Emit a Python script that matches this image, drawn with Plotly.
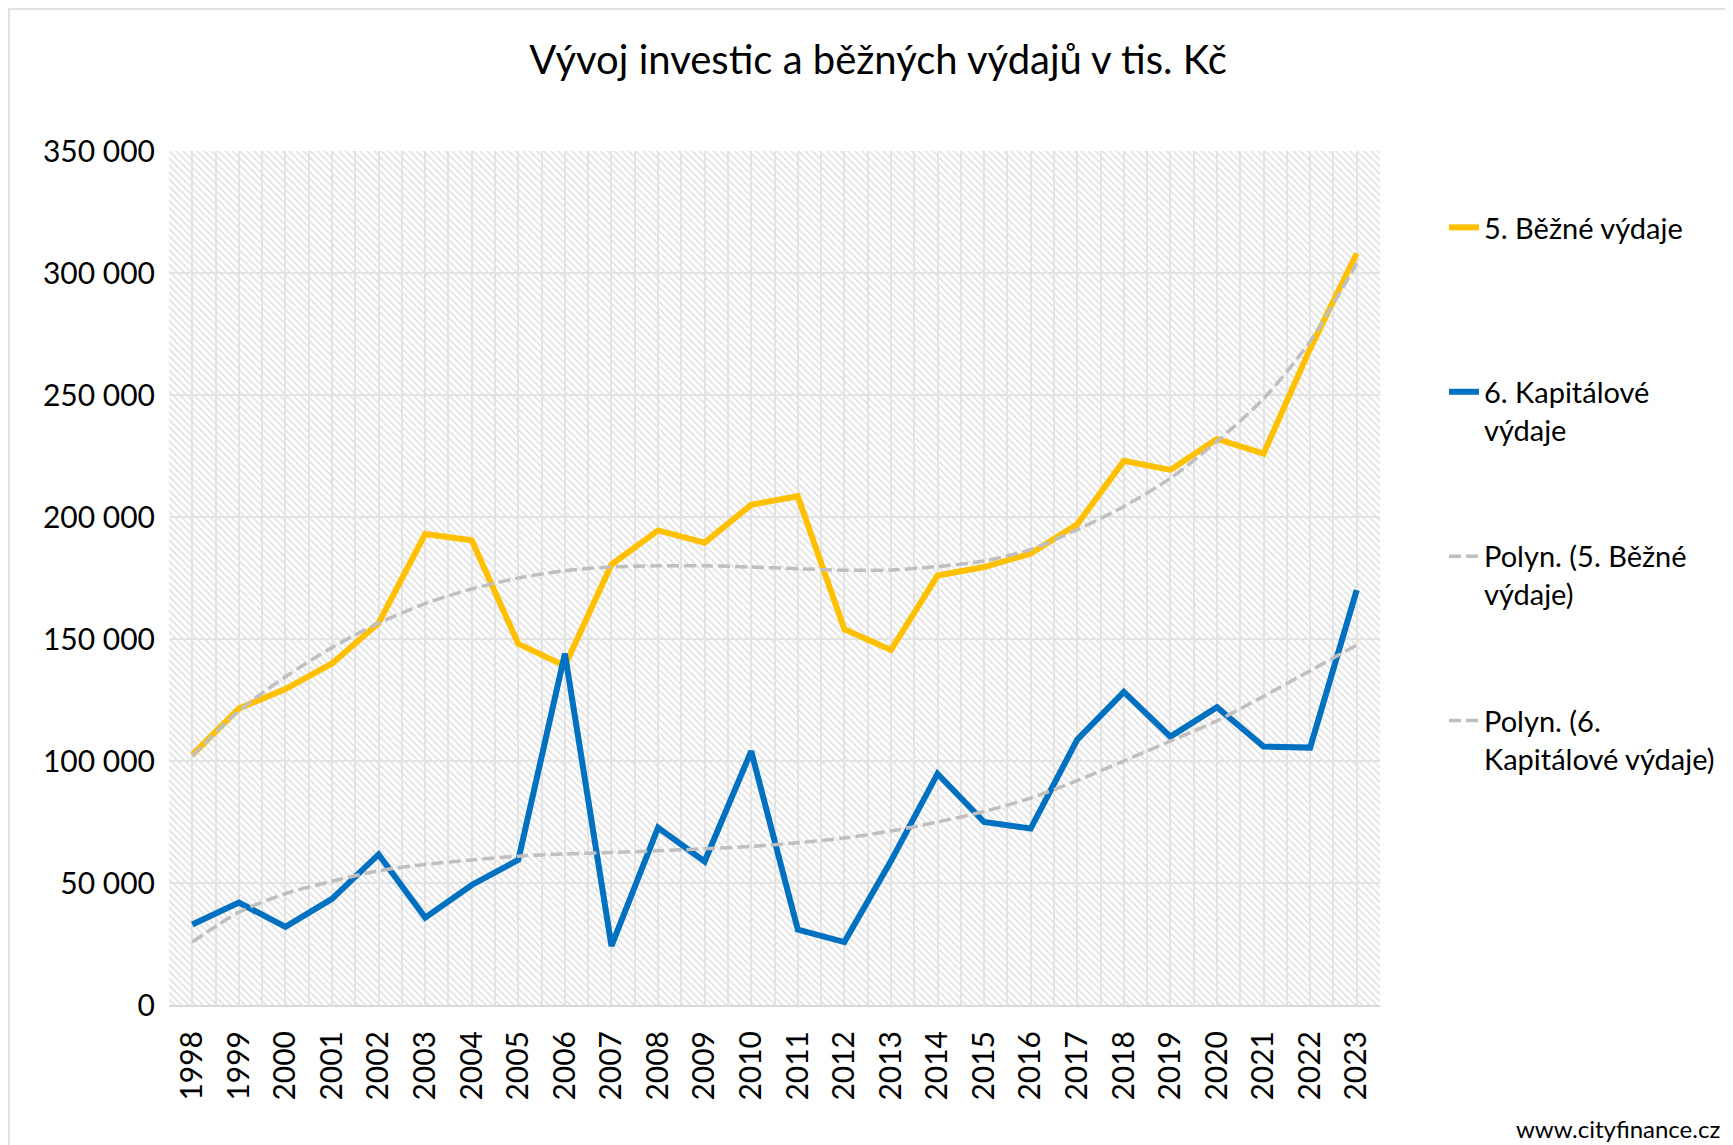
import plotly.graph_objects as go

# ---- data (tis. Kč) ----
years = [1998, 1999, 2000, 2001, 2002, 2003, 2004, 2005, 2006, 2007, 2008, 2009, 2010,
         2011, 2012, 2013, 2014, 2015, 2016, 2017, 2018, 2019, 2020, 2021, 2022, 2023]

bezne_vydaje = [102500, 121500, 129500, 140000, 156500, 193000, 190500, 148000, 139000,
                180500, 194500, 189500, 205000, 208500, 154000, 145500, 176000, 179500,
                185000, 197000, 223000, 219300, 232000, 226000, 269000, 308000]

kapitalove_vydaje = [33000, 42000, 32000, 43500, 61700, 35800, 49200, 59500, 144000,
                     24200, 72700, 58800, 104000, 30900, 25800, 59000, 94800, 75000,
                     72300, 108800, 128300, 110000, 122000, 105900, 105500, 170000]

trend_bezne = [102000, 120500, 134500, 146500, 156500, 164500, 170500, 175000, 178000,
               179500, 180000, 180000, 179500, 178800, 178200, 178300, 179700, 182000,
               186700, 194800, 204300, 215900, 231000, 248500, 272000, 304000]

trend_kapitalove = [25800, 38000, 45600, 50700, 55000, 57600, 59400, 61000, 61900,
                    62500, 63200, 64000, 65000, 66500, 68400, 71300, 75000, 79300,
                    84800, 92000, 100000, 108200, 116500, 126500, 137000, 147500]

series_names = ["5. Běžné výdaje<br> ", "6. Kapitálové<br>výdaje",
                "Polyn. (5. Běžné<br>výdaje)", "Polyn. (6.<br>Kapitálové výdaje)"]

Y_MAX = 350000
Y_STEP = 50000
title_text = "Vývoj investic a běžných výdajů v tis. Kč"
source_text = "www.cityfinance.cz"

FONT = "Lato, 'Open Sans', sans-serif"

fig = go.Figure()

# hatched plot-area background
x_lo = years[0] - 0.5
x_hi = years[-1] + 0.5
fig.add_trace(go.Scatter(
    x=[x_lo, x_hi, x_hi, x_lo, x_lo], y=[0, 0, Y_MAX, Y_MAX, 0],
    mode="none", fill="toself", fillcolor="rgba(0,0,0,0)",
    fillpattern=dict(shape="\\", fgcolor="#e3e3e3", bgcolor="rgba(255,255,255,0)",
                     size=5, solidity=0.38, fillmode="replace"),
    hoverinfo="skip", showlegend=False))

fig.add_trace(go.Scatter(x=years, y=bezne_vydaje, name=series_names[0], mode="lines",
                         line=dict(color="#FFC000", width=6), legendgroup="a"))
fig.add_trace(go.Scatter(x=years, y=kapitalove_vydaje, name=series_names[1], mode="lines",
                         line=dict(color="#0070C0", width=6), legendgroup="b"))
fig.add_trace(go.Scatter(x=years, y=trend_bezne, name=series_names[2], mode="lines",
                         line=dict(color="#BFBFBF", width=3.5, dash="12px,5px",
                                   shape="spline", smoothing=0.8), legendgroup="c"))
fig.add_trace(go.Scatter(x=years, y=trend_kapitalove, name=series_names[3], mode="lines",
                         line=dict(color="#BFBFBF", width=3.5, dash="12px,5px",
                                   shape="spline", smoothing=0.8), legendgroup="d"))

# page offset (body margin of the html page)
OFF = 8
W, H = 1733 - OFF, 1145 - OFF
ML, MT = 169 - OFF, 151 - OFF
MR = W - (1380 - OFF)
MB = H - (1005 - OFF)
PW, PH = W - ML - MR, H - MT - MB


def px_x(x):
    """page pixel x -> paper coordinate"""
    return (x - OFF - ML) / PW


def px_y(y):
    """page pixel y -> paper coordinate"""
    return (H - MB - (y - OFF)) / PH


fig.update_layout(
    width=W, height=H,
    margin=dict(l=ML, r=MR, t=MT, b=MB),
    paper_bgcolor="white", plot_bgcolor="white",
    separators=", ",
    font=dict(family=FONT, size=30, color="#000000"),
    title=dict(text=title_text, x=(878 - OFF) / W, xanchor="center", xref="container",
               y=1 - (60 - OFF) / H, yanchor="middle", yref="container",
               font=dict(family=FONT, size=40, color="#000000")),
    showlegend=True,
    legend=dict(x=px_x(1444), xanchor="left", y=px_y(202), yanchor="top",
                font=dict(family=FONT, size=29, color="#000000"),
                tracegroupgap=86, valign="top", bgcolor="rgba(0,0,0,0)"),
    xaxis=dict(range=[x_lo, x_hi], tickmode="array", tickvals=years,
               ticktext=[str(y) for y in years], tickangle=-90,
               showgrid=True, gridcolor="#e3e3e3", gridwidth=2,
               minor=dict(tick0=x_lo, dtick=1, showgrid=True, gridcolor="#e3e3e3", gridwidth=2),
               showline=True, linecolor="#d9d9d9", linewidth=2,
               ticks="", ticklabelstandoff=12, zeroline=False,
               tickfont=dict(family=FONT, size=30)),
    yaxis=dict(range=[0, Y_MAX], dtick=Y_STEP, tick0=0, tickformat=",d",
               showgrid=True, gridcolor="#e3e3e3", gridwidth=2,
               showline=False, zeroline=False, ticks="", ticklabelstandoff=13,
               tickfont=dict(family=FONT, size=30)),
    shapes=[dict(type="rect", xref="paper", yref="paper",
                 x0=px_x(9), x1=px_x(1760), y0=px_y(1170), y1=px_y(9),
                 line=dict(color="#d9d9d9", width=1.5), fillcolor="rgba(0,0,0,0)",
                 layer="below")],
    annotations=[dict(text=source_text, xref="paper", yref="paper",
                      x=px_x(1722), xanchor="right", y=px_y(1128), yanchor="middle",
                      showarrow=False, font=dict(family=FONT, size=24, color="#000000"))],
)

fig.write_html("out.html")
